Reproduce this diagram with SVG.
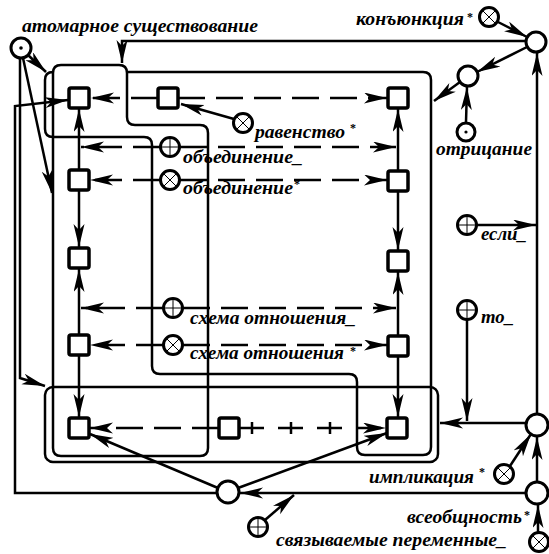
<svg xmlns="http://www.w3.org/2000/svg" width="549" height="554" viewBox="0 0 549 554">
<defs>
<marker id="ah" markerUnits="userSpaceOnUse" markerWidth="26" markerHeight="12" refX="23" refY="5.5" orient="auto">
<path d="M0,0 L23,5.5 L0,11 L6,5.5 Z" fill="#000"/>
</marker>
<style>
.rg{fill:none;stroke:#000;stroke-width:2.5}
.sq{fill:#fff;stroke:#000;stroke-width:3.5}
.nd{fill:#fff;stroke:#000;stroke-width:3}
.sym{stroke:#000;stroke-width:1;fill:none}
.cn{fill:none;stroke:#000;stroke-width:2.5;marker-end:url(#ah)}
.ln{fill:none;stroke:#000;stroke-width:2.5}
.dash{stroke-dasharray:27 11}
.tick{stroke-dasharray:25 14}
.t{font-family:"Liberation Serif",serif;font-weight:bold;font-style:italic;font-size:18px;fill:#000}
.ast{font-family:"Liberation Serif",serif;font-weight:bold;font-size:12px;fill:#000}
</style>
</defs>
<rect width="549" height="554" fill="#fff"/>

<g id="regions">
<path id="region-atomic" class="rg" d="M61,65 H119 Q127,65 127,73 V117 Q127,125 135,125 H200 Q208,125 208,133 V448 Q208,456 200,456 H61 Q53,456 53,448 V73 Q53,65 61,65 Z"/>
<path id="region-main" class="rg" d="M53,72 Q45,72 45,80 V129 Q45,137 53,137 H144 Q152,137 152,145 V366 Q152,374 160,374 H349 Q357,374 357,382 V447 Q357,455 365,455 H423 Q431,455 431,447 V80 Q431,72 423,72 H127"/>
<rect id="region-bottom" class="rg" x="45" y="387" width="393" height="75" rx="8"/>
</g>

<g id="connectors">
<path class="cn" d="M28,55 L46,72"/>
<path class="cn" d="M23,58 L52,193"/>
<path class="cn" d="M20,58 V378 L45,386"/>
<path class="cn" d="M217,493 H15 V106 L68,100"/>
<path class="cn" d="M526,41 H122 V63"/>
<path class="cn" d="M498,22 L527,37"/>
<path class="cn" d="M527,47 L477,72"/>
<path class="cn" d="M460,82 L434,101"/>
<path class="cn" d="M466,122 L467,87"/>
<path class="cn" d="M477,225 H536"/>
<path class="cn" d="M537,414 V53"/>
<path class="cn" d="M467,320 V421"/>
<path class="cn" d="M526,423 H440"/>
<path class="cn" d="M510,466 L531,434"/>
<path class="cn" d="M537,482 V437"/>
<path class="cn" d="M538,532 V505"/>
<path class="cn" d="M526,493 H240"/>
<path class="cn" d="M265,520 L294,495"/>
<path class="cn" d="M218,488 L90,434"/>
<path class="cn" d="M238,488 L387,433"/>
<path class="cn dash" d="M158,98 H91"/>
<path class="cn dash" d="M178,98 H387"/>
<path class="cn" d="M234,119 L181,104"/>
<path class="cn dash" d="M160,147 H81"/>
<path class="cn dash" d="M180,147 H396"/>
<path class="cn dash" d="M160,180 H90"/>
<path class="cn dash" d="M180,180 H387"/>
<path class="cn dash" d="M163,308 H81"/>
<path class="cn dash" d="M183,308 H396"/>
<path class="cn dash" d="M163,345 H90"/>
<path class="cn dash" d="M183,345 H387"/>
<path class="cn dash" d="M219,428 H90"/>
<path class="cn tick" d="M239,428 H386"/>
<path class="ln" d="M252,422 V434 M291,422 V434 M330,422 V434"/>
<path class="cn" d="M79,170 V109"/>
<path class="cn" d="M79,190 V247"/>
<path class="cn" d="M79,335 V269"/>
<path class="cn" d="M79,355 V417"/>
<path class="cn" d="M398,171 V109"/>
<path class="cn" d="M398,191 V250"/>
<path class="cn" d="M398,336 V272"/>
<path class="cn" d="M398,356 V417"/>
</g>

<g id="sq-l1"><rect class="sq" x="69" y="88" width="20" height="20" rx="2"/></g>
<g id="sq-l2"><rect class="sq" x="69" y="170" width="20" height="20" rx="2"/></g>
<g id="sq-l3"><rect class="sq" x="69" y="248" width="20" height="20" rx="2"/></g>
<g id="sq-l4"><rect class="sq" x="69" y="335" width="20" height="20" rx="2"/></g>
<g id="sq-l5"><rect class="sq" x="69" y="418" width="20" height="20" rx="2"/></g>
<g id="sq-m1"><rect class="sq" x="158" y="88" width="20" height="20" rx="2"/></g>
<g id="sq-m5"><rect class="sq" x="219" y="418" width="20" height="20" rx="2"/></g>
<g id="sq-r1"><rect class="sq" x="388" y="88" width="20" height="20" rx="2"/></g>
<g id="sq-r2"><rect class="sq" x="388" y="171" width="20" height="20" rx="2"/></g>
<g id="sq-r3"><rect class="sq" x="388" y="251" width="20" height="20" rx="2"/></g>
<g id="sq-r4"><rect class="sq" x="388" y="336" width="20" height="20" rx="2"/></g>
<g id="sq-r5"><rect class="sq" x="387" y="418" width="20" height="20" rx="2"/></g>

<g id="n-atomic">
<circle class="nd" cx="21" cy="48" r="10"/><circle cx="21" cy="48" r="1.8" fill="#000"/>
<text class="t" x="22" y="32" textLength="236" lengthAdjust="spacingAndGlyphs">атомарное существование</text>
</g>
<g id="n-conj">
<circle class="nd" cx="489" cy="17" r="9.5"/><path class="sym" d="M482,10 L496,24 M496,10 L482,24"/>
<text class="t" x="356" y="25" textLength="108" lengthAdjust="spacingAndGlyphs">конъюнкция</text>
<text class="ast" x="467" y="21">*</text>
</g>
<g id="n-top"><circle class="nd" cx="536" cy="42" r="10"/></g>
<g id="n-neg-junction"><circle class="nd" cx="468" cy="76" r="10"/></g>
<g id="n-neg">
<circle class="nd" cx="466" cy="132" r="9"/><circle cx="466" cy="132" r="1.6" fill="#000"/>
<text class="t" x="436" y="155" textLength="96" lengthAdjust="spacingAndGlyphs">отрицание</text>
</g>
<g id="n-eq">
<circle class="nd" cx="243" cy="123" r="9.5"/><path class="sym" d="M236,116 L250,130 M250,116 L236,130"/>
<text class="t" x="255" y="138" textLength="90" lengthAdjust="spacingAndGlyphs">равенство</text>
<text class="ast" x="350" y="132">*</text>
</g>
<g id="n-union-u">
<circle class="nd" cx="170" cy="147" r="9.5"/><path class="sym" d="M160,147 H180 M170,137 V157"/>
<text class="t" x="183" y="163" textLength="120" lengthAdjust="spacingAndGlyphs">объединение_</text>
</g>
<g id="n-union-x">
<circle class="nd" cx="170" cy="180" r="9.5"/><path class="sym" d="M163,173 L177,187 M177,173 L163,187"/>
<text class="t" x="183" y="194" textLength="110" lengthAdjust="spacingAndGlyphs">объединение</text>
<text class="ast" x="294" y="188">*</text>
</g>
<g id="n-if">
<circle class="nd" cx="467" cy="225" r="9.5"/><path class="sym" d="M457,225 H477 M467,215 V235"/>
<text class="t" x="481" y="240" textLength="46" lengthAdjust="spacingAndGlyphs">если_</text>
</g>
<g id="n-then">
<circle class="nd" cx="467" cy="310" r="9.5"/><path class="sym" d="M457,310 H477 M467,300 V320"/>
<text class="t" x="481" y="323" textLength="33" lengthAdjust="spacingAndGlyphs">то_</text>
</g>
<g id="n-schema-u">
<circle class="nd" cx="173" cy="308" r="9.5"/><path class="sym" d="M163,308 H183 M173,298 V318"/>
<text class="t" x="190" y="324" textLength="166" lengthAdjust="spacingAndGlyphs">схема отношения_</text>
</g>
<g id="n-schema-x">
<circle class="nd" cx="173" cy="345" r="9.5"/><path class="sym" d="M166,338 L180,352 M180,338 L166,352"/>
<text class="t" x="190" y="359" textLength="154" lengthAdjust="spacingAndGlyphs">схема отношения</text>
<text class="ast" x="350" y="355">*</text>
</g>
<g id="n-impl-junction"><circle class="nd" cx="537" cy="425" r="11"/></g>
<g id="n-impl">
<circle class="nd" cx="504" cy="474" r="9.5"/><path class="sym" d="M497,467 L511,481 M511,467 L497,481"/>
<text class="t" x="369" y="483" textLength="105" lengthAdjust="spacingAndGlyphs">импликация</text>
<text class="ast" x="479" y="476">*</text>
</g>
<g id="n-forall-junction"><circle class="nd" cx="537" cy="493" r="11"/></g>
<g id="n-forall">
<circle class="nd" cx="539" cy="542" r="9.5"/><path class="sym" d="M532,535 L546,549 M546,535 L532,549"/>
<text class="t" x="407" y="523" textLength="115" lengthAdjust="spacingAndGlyphs">всеобщность</text>
<text class="ast" x="524" y="519">*</text>
</g>
<g id="n-bottom"><circle class="nd" cx="228" cy="492" r="11"/></g>
<g id="n-bound">
<circle class="nd" cx="258" cy="527" r="9.5"/><path class="sym" d="M248,527 H268 M258,517 V537"/>
<text class="t" x="276" y="546" textLength="231" lengthAdjust="spacingAndGlyphs">связываемые переменные_</text>
</g>
</svg>
